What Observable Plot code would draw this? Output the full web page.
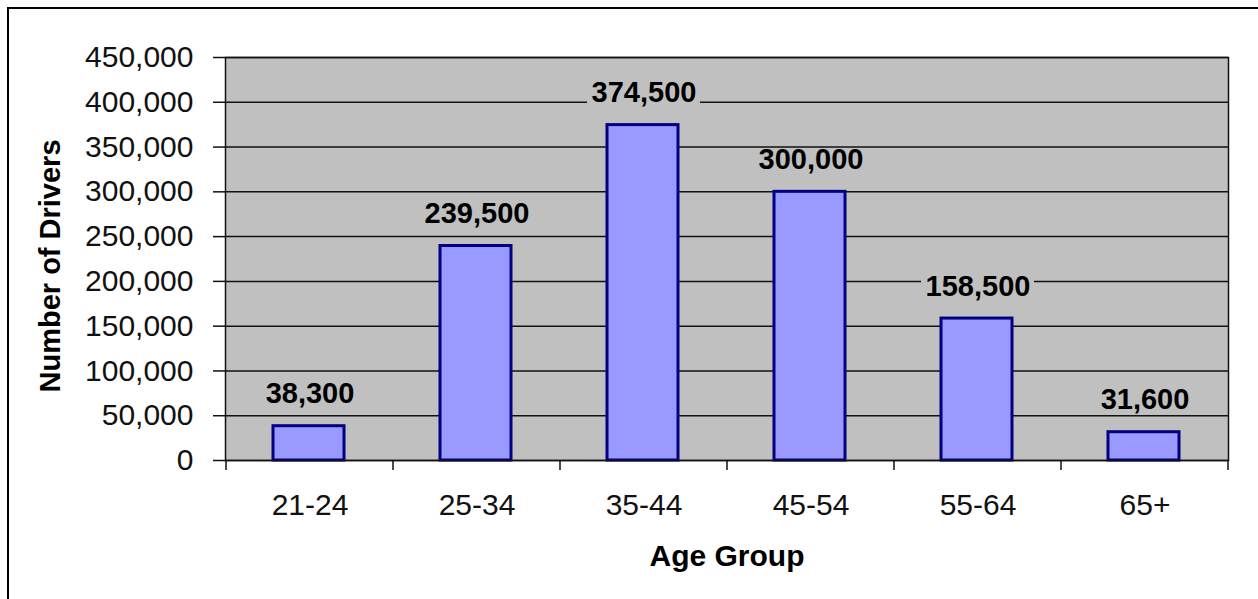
<!DOCTYPE html>
<html>
<head>
<meta charset="utf-8">
<script src="https://cdn.jsdelivr.net/npm/d3@7"></script>
<script src="https://cdn.jsdelivr.net/npm/@observablehq/plot@0.6"></script>
<style>
  html, body { margin: 0; padding: 0; background: #fff; overflow: hidden; }
  #wrap { position: relative; width: 1258px; height: 599px; }
  #border { position: absolute; left: 7px; top: 7px; width: 1300px; height: 700px;
            border-left: 2px solid #000; border-top: 2px solid #000; pointer-events: none; }
  svg { font-family: "Liberation Sans", Arial, sans-serif; }
</style>
</head>
<body>
<div id="wrap"><div id="border"></div></div>
<script>
const categories = ["21-24", "25-34", "35-44", "45-54", "55-64", "65+"];
const drivers = [38300, 239500, 374500, 300000, 158500, 31600];
const yTicks = [0, 50000, 100000, 150000, 200000, 250000, 300000, 350000, 400000, 450000];
const xTitle = "Age Group";
const yTitle = "Number of Drivers";

const data = categories.map((c, i) => ({group: c, value: drivers[i]}));
const fmt = d3.format(",");
const labelFontSize = 29;
const labelDy = -32;
const labelFill = "#C0C0C0";

function bandWidth(x) {
  return typeof x.bandwidth === "function" ? x.bandwidth() : x.bandwidth;
}

function boundaryTicks(index, scales, values, dimensions) {
  const x = scales.x;
  const bw = bandWidth(x);
  const y0 = dimensions.height - dimensions.marginBottom;
  const pos = categories.map(c => x(c));
  pos.push(x(categories[categories.length - 1]) + bw);
  const g = d3.create("svg:g");
  g.selectAll("line").data(pos).join("line")
    .attr("x1", d => d).attr("x2", d => d)
    .attr("y1", y0).attr("y2", y0 + 10)
    .attr("stroke", "#111").attr("stroke-width", 1.5);
  return g.node();
}

function labelBoxes(index, scales) {
  const x = scales.x, y = scales.y;
  const bw = bandWidth(x);
  const ctx = document.createElement("canvas").getContext("2d");
  ctx.font = `bold ${labelFontSize}px "Liberation Sans", Arial, sans-serif`;
  const g = d3.create("svg:g");
  g.selectAll("rect").data(data).join("rect")
    .each(function(d) {
      const w = ctx.measureText(fmt(d.value)).width + 8;
      const h = 22;
      const cx = x(d.group) + bw / 2;
      const cy = y(d.value) + labelDy;
      d3.select(this).attr("x", cx - w / 2).attr("y", cy - h / 2)
        .attr("width", w).attr("height", h).attr("fill", labelFill);
    });
  return g.node();
}

const chart = Plot.plot({
  width: 1258,
  height: 599,
  marginLeft: 225,
  marginTop: 57,
  marginRight: 30,
  marginBottom: 139,
  style: {fontFamily: "'Liberation Sans', Arial, sans-serif", background: "transparent", overflow: "visible"},
  x: {type: "band", domain: categories, padding: 0},
  y: {domain: [0, 450000]},
  marks: [
    Plot.frame({fill: "#C0C0C0"}),
    Plot.ruleY(yTicks, {stroke: "#111", strokeWidth: 1.5}),
    Plot.barY(data, {x: "group", y: "value", fill: "#9999FF", stroke: "#000080", strokeWidth: 3, insetLeft: 47, insetRight: 49}),
    labelBoxes,
    Plot.text(data, {x: "group", y: "value", text: d => fmt(d.value), dy: labelDy, fontSize: labelFontSize, fontWeight: "bold", fill: "#000"}),
    Plot.frame({stroke: "#111", strokeWidth: 1.5}),
    Plot.axisY({ticks: yTicks, tickFormat: fmt, tickSize: 12, tickPadding: 20, fontSize: 30, label: null, stroke: "#111", strokeWidth: 1.5, fill: "#111"}),
    Plot.axisX({tickSize: 0, tickPadding: 33, fontSize: 30, label: null, fill: "#111"}),
    boundaryTicks,
    Plot.text([xTitle], {frameAnchor: "bottom", dy: 105, fontSize: 30, fontWeight: "bold", fill: "#000"}),
    Plot.text([yTitle], {frameAnchor: "left", textAnchor: "middle", dx: -175, dy: 7, rotate: -90, fontSize: 29, fontWeight: "bold", fill: "#000"})
  ]
});
document.getElementById("wrap").prepend(chart);
</script>
</body>
</html>
